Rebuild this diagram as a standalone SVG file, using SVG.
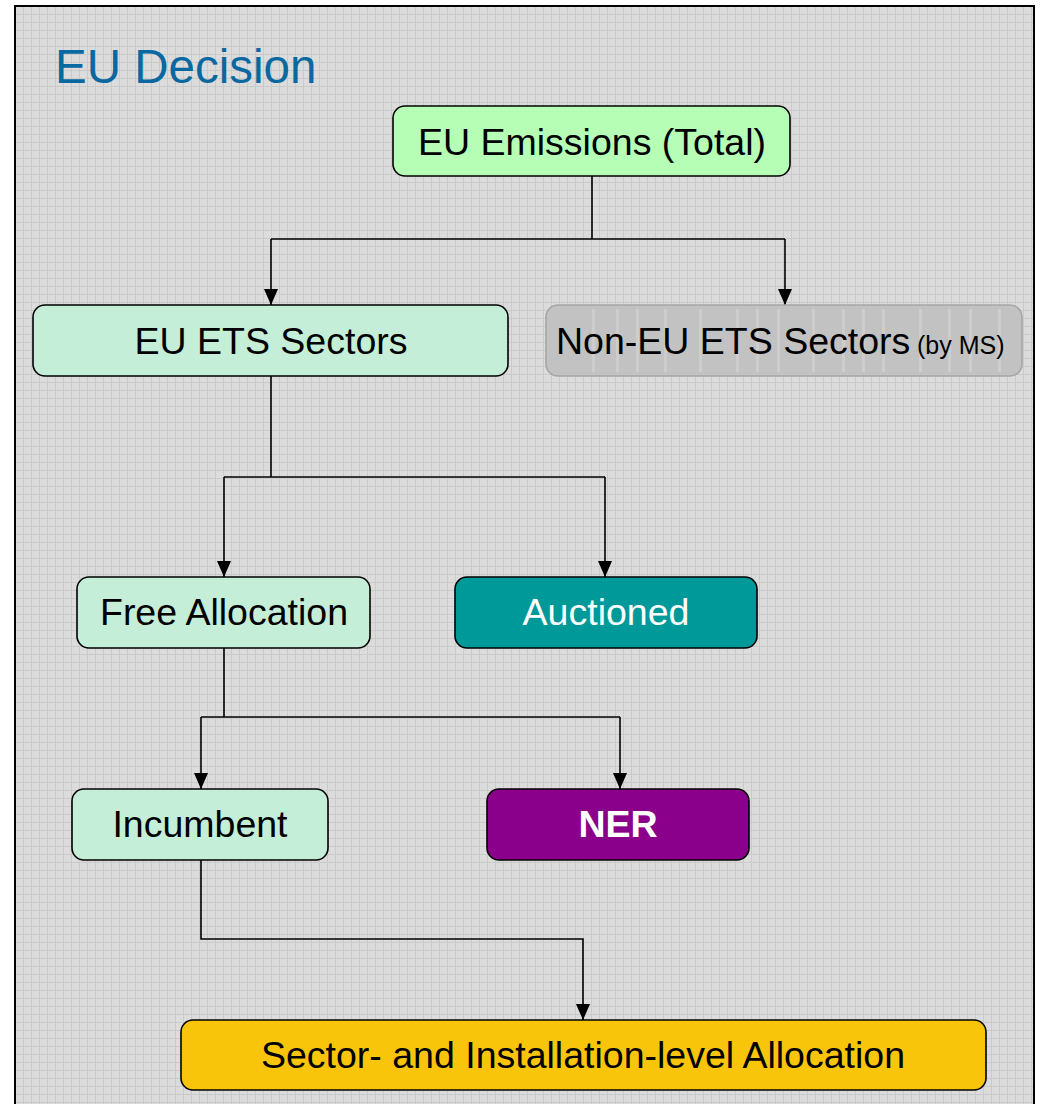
<svg xmlns="http://www.w3.org/2000/svg" width="1040" height="1104" viewBox="0 0 1040 1104">
  <defs>
    <pattern id="grid" x="15" y="6" width="8" height="8" patternUnits="userSpaceOnUse">
      <rect width="8" height="8" fill="#dcdcdc"/>
      <path d="M0 0.5H8M0.5 0V8" stroke="#cacaca" stroke-width="1" fill="none"/>
    </pattern>
    <marker id="arr" viewBox="0 0 16 14" refX="16" refY="7" markerWidth="16" markerHeight="14" markerUnits="userSpaceOnUse" orient="auto">
      <path d="M0 0 L16 7 L0 14 Z" fill="#000"/>
    </marker>
  </defs>
  <style>
    .node rect { stroke: #000; stroke-width: 1.6; }
    .lbl { font-family: "Liberation Sans", Arial, sans-serif; font-size: 37.5px; text-anchor: middle; fill: #000; }
    .conn path { fill: none; stroke: #000; stroke-width: 1.6; }
  </style>
  <rect x="0" y="0" width="1040" height="1104" fill="#ffffff"/>
  <rect x="15" y="6" width="1019" height="1110" fill="url(#grid)" stroke="#000" stroke-width="2"/>

  <text id="title" x="55" y="83" font-family="'Liberation Sans', Arial, sans-serif" font-size="47.5" fill="#0a68a0">EU Decision</text>

  <g id="connectors" class="conn">
    <path d="M592 176 V239 M271 239 H785"/>
    <path d="M271 239 V305" marker-end="url(#arr)"/>
    <path d="M785 239 V305" marker-end="url(#arr)"/>
    <path d="M271 376 V477 M224 477 H605"/>
    <path d="M224 477 V577" marker-end="url(#arr)"/>
    <path d="M605 477 V577" marker-end="url(#arr)"/>
    <path d="M224 648 V717 M201 717 H620"/>
    <path d="M201 717 V789" marker-end="url(#arr)"/>
    <path d="M620 717 V789" marker-end="url(#arr)"/>
    <path d="M201 860 V939 H583 V1020" marker-end="url(#arr)"/>
  </g>

  <g id="node-eu-emissions" class="node">
    <rect x="393" y="106" width="397" height="70" rx="12" fill="#b6fdb6"/>
    <text class="lbl" x="592" y="155">EU Emissions (Total)</text>
  </g>

  <g id="node-eu-ets" class="node">
    <rect x="33" y="305" width="475" height="71" rx="12" fill="#c4eed8"/>
    <text class="lbl" x="271" y="354">EU ETS Sectors</text>
  </g>

  <g id="node-non-eu-ets">
    <rect x="546" y="305" width="476" height="71" rx="12" fill="#c2c2c2" stroke="#a6a6a6" stroke-width="1.6"/>
    <g fill="#cdcdcd">
      <rect x="592" y="309" width="3" height="63"/>
      <rect x="616" y="309" width="3" height="63"/>
      <rect x="636" y="309" width="3" height="63"/>
      <rect x="664" y="309" width="3" height="63"/>
      <rect x="699" y="309" width="3" height="63"/>
      <rect x="736" y="309" width="3" height="63"/>
      <rect x="756" y="309" width="3" height="63"/>
      <rect x="777" y="309" width="3" height="63"/>
      <rect x="812" y="309" width="3" height="63"/>
      <rect x="842" y="309" width="3" height="63"/>
      <rect x="862" y="309" width="3" height="63"/>
      <rect x="882" y="309" width="3" height="63"/>
      <rect x="919" y="309" width="3" height="63"/>
      <rect x="948" y="309" width="3" height="63"/>
      <rect x="969" y="309" width="3" height="63"/>
      <rect x="998" y="309" width="3" height="63"/>
    </g>
    <text x="556" y="354" font-family="'Liberation Sans', Arial, sans-serif" font-size="37.5" fill="#000">Non-EU ETS Sectors</text>
    <text x="917" y="354" font-family="'Liberation Sans', Arial, sans-serif" font-size="25" fill="#000">(by MS)</text>
  </g>

  <g id="node-free-allocation" class="node">
    <rect x="77" y="577" width="293" height="71" rx="12" fill="#c4eed8"/>
    <text class="lbl" x="224" y="625">Free Allocation</text>
  </g>

  <g id="node-auctioned" class="node">
    <rect x="455" y="577" width="302" height="71" rx="12" fill="#009999"/>
    <text class="lbl" x="606" y="625" style="fill:#ffffff">Auctioned</text>
  </g>

  <g id="node-incumbent" class="node">
    <rect x="72" y="789" width="256" height="71" rx="12" fill="#c4eed8"/>
    <text class="lbl" x="200" y="837">Incumbent</text>
  </g>

  <g id="node-ner" class="node">
    <rect x="487" y="789" width="262" height="71" rx="12" fill="#8b008b"/>
    <text class="lbl" x="618" y="837" style="fill:#ffffff;font-weight:bold">NER</text>
  </g>

  <g id="node-sector-installation" class="node">
    <rect x="181" y="1020" width="805" height="70" rx="12" fill="#f8c50a"/>
    <text class="lbl" x="583" y="1068">Sector- and Installation-level Allocation</text>
  </g>
</svg>
